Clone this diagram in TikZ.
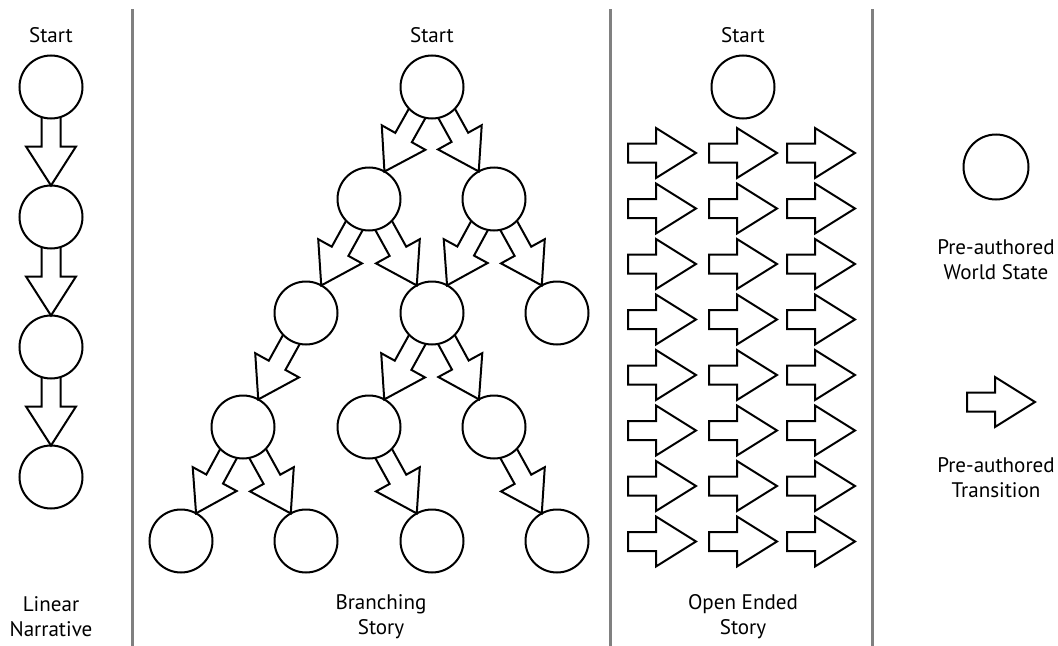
\documentclass[tikz,border=0pt]{standalone}
\usepackage{fontspec}
\setmainfont{PT Sans}
\usetikzlibrary{calc}
\tikzset{
  st/.style={circle,draw,line width=1.5pt,minimum size=47.25pt,inner sep=0pt},
  tr/.style={draw,line width=1.5pt,line join=miter},
  lbl/.style={align=center,font=\fontsize{15.8}{18.75}\selectfont,inner sep=0pt},
  sep/.style={draw=gray,line width=2.25pt},
  blk/.pic={\draw[tr] (0,-9.5)--(28,-9.5)--(28,-25)--(68,0)--(28,25)--(28,9.5)--(0,9.5)--cycle;}
}
\newcommand\trans[2]{%
  \coordinate (s) at ($(#1.center)!22.5pt!(#2.center)$);
  \coordinate (t) at ($(#2.center)!23.625pt!(#1.center)$);
  \coordinate (h) at ($(t)!29.25pt!(s)$);
  \draw[tr] ($(s)!7.125pt!90:(t)$) -- ($(h)!7.125pt!90:(t)$) -- ($(h)!18.75pt!90:(t)$) -- (t) -- ($(h)!18.75pt!-90:(t)$) -- ($(h)!7.125pt!-90:(t)$) -- ($(s)!7.125pt!-90:(t)$);}
\begin{document}
\begin{tikzpicture}[x=0.75pt,y=-0.75pt]
\fill[white] (0,0) rectangle (1058,646);
\useasboundingbox (0,0) rectangle (1058,646);
% separators
\draw[sep] (132,9) -- (132,646);
\draw[sep] (610,9) -- (610,646);
\draw[sep] (872,9) -- (872,646);
% labels
\node[lbl] (t1) at (51,35) {Start};
\node[lbl] (t2) at (432,35) {Start};
\node[lbl] (t3) at (743,35) {Start};
\node[lbl] (c1) at (51,617) {Linear\\Narrative};
\node[lbl] (c2) at (381,617) {Branching\\Story};
\node[lbl] (c3) at (743,617) {Open Ended\\Story};
\node[lbl] (g1) at (996,260) {Pre-authored\\World State};
\node[lbl] (g2) at (996,478) {Pre-authored\\Transition};
% linear
\node[st] (l1) at (51,87) {};
\node[st] (l2) at (51,217) {};
\node[st] (l3) at (51,347) {};
\node[st] (l4) at (51,477) {};
\trans{l1}{l2}\trans{l2}{l3}\trans{l3}{l4}
% branching
\node[st] (b1) at (432,87) {};
\node[st] (b2a) at (369,199) {};
\node[st] (b2b) at (494,199) {};
\node[st] (b3a) at (306,313) {};
\node[st] (b3b) at (432,313) {};
\node[st] (b3c) at (557,313) {};
\node[st] (b4a) at (243,427) {};
\node[st] (b4b) at (369,427) {};
\node[st] (b4c) at (494,427) {};
\node[st] (b5a) at (181,541) {};
\node[st] (b5b) at (306,541) {};
\node[st] (b5c) at (432,541) {};
\node[st] (b5d) at (557,541) {};
\trans{b1}{b2a}\trans{b1}{b2b}
\trans{b2a}{b3a}\trans{b2a}{b3b}
\trans{b2b}{b3b}\trans{b2b}{b3c}
\trans{b3a}{b4a}
\trans{b3b}{b4b}\trans{b3b}{b4c}
\trans{b4a}{b5a}\trans{b4a}{b5b}
\trans{b4b}{b5c}
\trans{b4c}{b5d}
% open ended
\node[st] (o1) at (743,87) {};
\foreach \k in {0,...,7}{
  \foreach \xx in {628,709,787}{
    \pic at (\xx,{153+55.5*\k}) {blk};
  }
}
% legend
\node[st,minimum size=48.75pt] (lc) at (996,167) {};
\pic at (967,402) {blk};
\end{tikzpicture}
\end{document}
